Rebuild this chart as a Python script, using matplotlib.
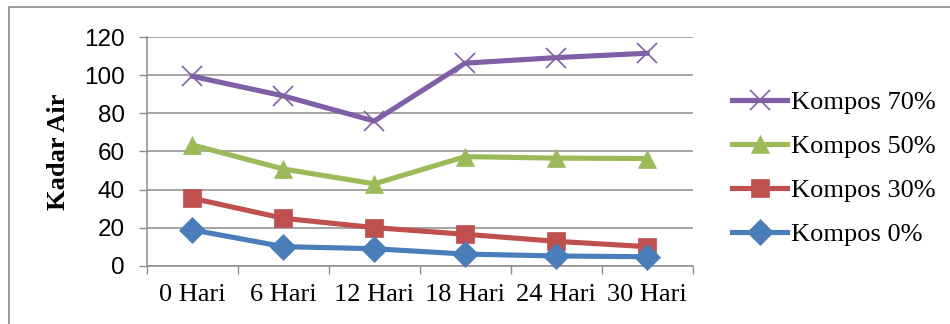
import matplotlib
matplotlib.use("Agg")
import matplotlib.pyplot as plt
from matplotlib.patches import Rectangle

days = ["0 Hari", "6 Hari", "12 Hari", "18 Hari", "24 Hari", "30 Hari"]
kompos_0 = [18.8, 10.0, 8.9, 6.1, 5.1, 4.7]
kompos_30 = [35.4, 24.9, 20.0, 16.5, 12.8, 10.0]
kompos_50 = [63.4, 50.8, 43.0, 57.3, 56.5, 56.3]
kompos_70 = [99.5, 89.2, 76.0, 106.4, 109.3, 111.6]

series = [
    ("Kompos 70%", kompos_70, "#7f5fa6", "x"),
    ("Kompos 50%", kompos_50, "#9bbb59", "^"),
    ("Kompos 30%", kompos_30, "#c0504d", "s"),
    ("Kompos 0%", kompos_0, "#4a7ebb", "D"),
]

serif = "Liberation Serif"
sans = "Liberation Sans"

fig = plt.figure(figsize=(9.5, 3.24), dpi=100)
ax = fig.add_axes([0.1547, 0.18, 0.5743, 0.705])

# outer chart frame (runs off the right and bottom edges)
fig.patches.append(Rectangle((0.0098, -0.05), 1.05, 1.0275,
                             transform=fig.transFigure, fill=False,
                             edgecolor="#8c8c8c", linewidth=1.2))

x = list(range(len(days)))
handles = []
for name, ys, color, marker in series:
    ms = 15 if marker == "x" else 13
    h, = ax.plot(x, ys, color=color, linewidth=3.7, marker=marker,
                 markersize=ms, markeredgewidth=1.2 if marker == "x" else 0.5,
                 markeredgecolor=color, label=name, clip_on=False, zorder=3)
    handles.append(h)

ax.set_xlim(-0.5, len(days) - 0.5)
ax.set_ylim(0, 120)
ax.set_yticks(range(0, 121, 20))
ax.set_xticks(x)
ax.set_xticklabels(days, fontfamily=serif, fontsize=19)
ax.set_xticks([i + 0.5 for i in range(-1, len(days))], minor=True)
ax.tick_params(axis="x", which="major", length=0, pad=13)
ax.tick_params(axis="x", which="minor", length=6, width=1, color="#8c8c8c",
               direction="out")
ax.tick_params(axis="y", length=6, width=1, color="#8c8c8c", direction="out",
               labelsize=17.5, pad=10)
for lab in ax.get_yticklabels():
    lab.set_fontfamily(sans)

ax.grid(axis="y", color="#8c8c8c", linewidth=1.1)
ax.set_axisbelow(True)
for side in ["top", "right"]:
    ax.spines[side].set_visible(False)
for side in ["left", "bottom"]:
    ax.spines[side].set_color("#8c8c8c")
    ax.spines[side].set_linewidth(1.1)

ax.set_ylabel("Kadar Air", fontfamily=serif, fontweight="bold", fontsize=19,
              labelpad=10)

fig.legend(handles=handles, loc="center left", bbox_to_anchor=(0.7705, 0.481),
           frameon=False, prop={"family": serif, "size": 19},
           handlelength=2.1, handletextpad=0.15, labelspacing=0.78,
           borderaxespad=0, borderpad=0)

fig.savefig("out.png", dpi=100)
